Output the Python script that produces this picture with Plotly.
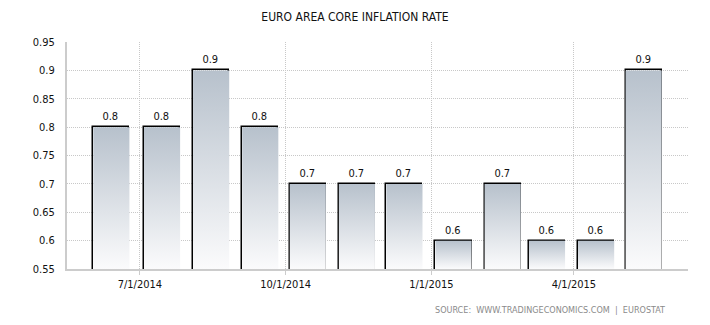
import plotly.graph_objects as go
import pandas as pd

# ---- data ----
months = ["2014-06-13", "2014-07-15", "2014-08-15", "2014-09-15", "2014-10-15", "2014-11-15",
          "2014-12-15", "2015-01-15", "2015-02-15", "2015-03-15", "2015-04-15", "2015-05-15"]
values = [0.8, 0.8, 0.9, 0.8, 0.7, 0.7, 0.7, 0.6, 0.7, 0.6, 0.6, 0.9]
tick_dates = ["2014-07-01", "2014-10-01", "2015-01-01", "2015-04-01"]
tick_labels = ["7/1/2014", "10/1/2014", "1/1/2015", "4/1/2015"]
y_ticks = [0.55, 0.6, 0.65, 0.7, 0.75, 0.8, 0.85, 0.9, 0.95]
y_tick_labels = ["0.55", "0.6", "0.65", "0.7", "0.75", "0.8", "0.85", "0.9", "0.95"]

Y_MIN, Y_MAX = 0.55, 0.95
BAR_DAYS = 22.8
FONT = "DejaVu Sans Condensed, DejaVu Sans, sans-serif"

fig = go.Figure()

# gradient fill of each bar (one polygon per bar, built from the data)
half = pd.Timedelta(days=BAR_DAYS / 2)
for d, v in zip(months, values):
    c = pd.Timestamp(d)
    xs = [c - half, c - half, c + half, c + half, c - half]
    ys = [Y_MIN, v, v, Y_MIN, Y_MIN]
    fig.add_trace(go.Scatter(
        x=xs, y=ys, mode="lines", fill="toself",
        line=dict(width=0, color="rgba(0,0,0,0)"),
        fillgradient=dict(type="vertical",
                          colorscale=[[0, "#fbfbfc"], [1, "#b7c1cc"]]),
        hoverinfo="skip", showlegend=False,
    ))

# bar outlines + value labels
fig.add_trace(go.Bar(
    x=months, y=values,
    width=[BAR_DAYS * 86400000] * len(months),
    marker=dict(color="rgba(0,0,0,0)", line=dict(color="#000000", width=1.5)),
    text=[f"{v:.1f}" for v in values], textposition="outside",
    textfont=dict(family=FONT, size=11, color="#111"),
    cliponaxis=False, showlegend=False,
))

fig.update_layout(
    width=710, height=325,
    margin=dict(l=67, r=22, t=42, b=56),
    paper_bgcolor="white", plot_bgcolor="white",
    title=dict(text="EURO AREA CORE INFLATION RATE", x=0.5, xanchor="center",
               y=1 - 17 / 325, yanchor="middle",
               font=dict(family=FONT, size=12, color="#111")),
    font=dict(family=FONT, size=11, color="#111"),
    bargap=0,
)
fig.update_xaxes(
    type="date", range=["2014-05-16", "2015-06-12"],
    tickvals=tick_dates, ticktext=tick_labels,
    showgrid=True, gridcolor="#c8c8c8", griddash="1px,1px", gridwidth=1,
    showline=True, linecolor="#cccccc", linewidth=2,
    ticks="outside", ticklen=4, tickcolor="#cccccc",
    tickfont=dict(family=FONT, size=11, color="#111"),
    zeroline=False,
)
fig.update_yaxes(
    range=[Y_MIN, Y_MAX], tickvals=y_ticks, ticktext=y_tick_labels,
    showgrid=True, gridcolor="#c8c8c8", griddash="1px,1px", gridwidth=1,
    showline=True, linecolor="#cccccc", linewidth=2,
    ticks="", ticklabelstandoff=8,
    tickfont=dict(family=FONT, size=11, color="#111"),
    zeroline=False,
)
fig.add_annotation(
    text="SOURCE:  WWW.TRADINGECONOMICS.COM  |  EUROSTAT",
    xref="paper", yref="paper", x=(667 - 67) / (688 - 67), y=-(310 - 269) / 227,
    xanchor="right", yanchor="middle", showarrow=False,
    font=dict(family=FONT, size=9, color="#8a8a8a"),
)

fig.write_html("out.html")
